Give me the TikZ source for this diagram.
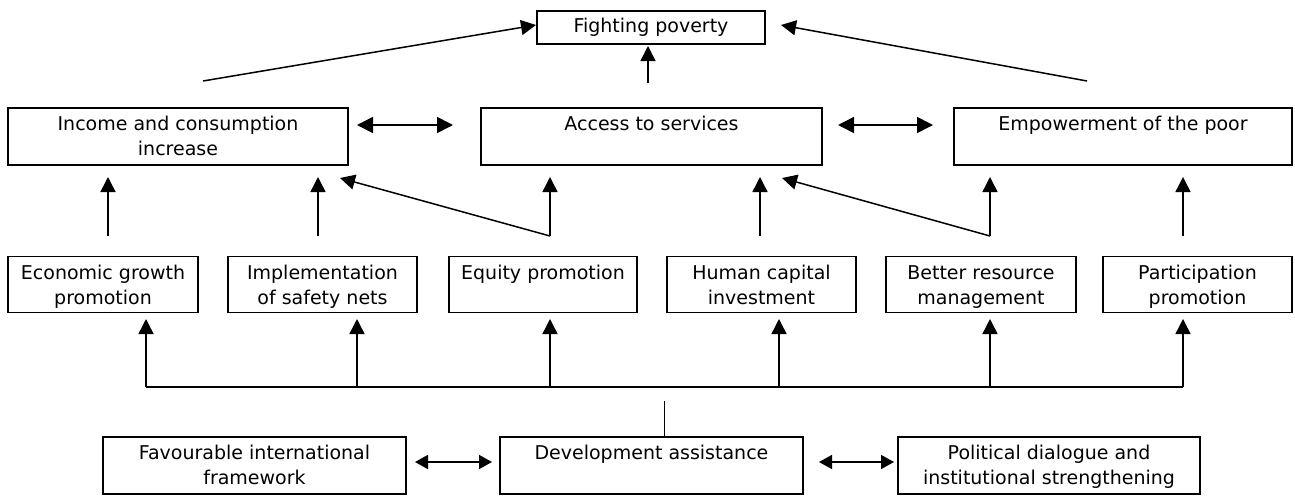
\documentclass[tikz,border=0pt]{standalone}
\usepackage{fontspec}
\setmainfont{DejaVu Sans}
\usetikzlibrary{arrows.meta}
% box text: first baseline a fixed distance below the top edge
\newcommand\boxlines[3]{\parbox[c][#2][t]{#1}{\centering\rule{0pt}{22.5pt}#3\par}}
\tikzset{
  frame/.style={draw, line width=1.6pt, inner sep=0pt, outer sep=0pt},
  link/.style={line width=1.5pt, -{Triangle[length=15pt,width=15pt]}},
  both/.style={line width=1.6pt, {Triangle[length=16pt,width=16pt]}-{Triangle[length=16pt,width=16pt]}},
  bothsmall/.style={line width=1.6pt, {Triangle[length=13pt,width=14pt]}-{Triangle[length=13pt,width=14pt]}},
  bus/.style={line width=2pt},
  stub/.style={line width=1pt},
}
\begin{document}
\begin{tikzpicture}[x=1pt,y=-1pt,font=\fontsize{19pt}{25pt}\selectfont]
\useasboundingbox (0,0) rectangle (1295,498);

% goal
\node[frame, minimum width=228pt, minimum height=33pt] (fight) at (651,27.5) {Fighting poverty};

% outcomes
\node[frame] (inc) at (178,136.5) {\boxlines{340pt}{57pt}{Income and consumption\\increase}};
\node[frame] (acc) at (651.5,136.5) {\boxlines{341pt}{57pt}{Access to services}};
\node[frame] (emp) at (1123,136.5) {\boxlines{338pt}{57pt}{Empowerment of the poor}};

% policy areas
\node[frame] (eco) at (103,284.5) {\boxlines{190pt}{56pt}{Economic growth\\promotion}};
\node[frame] (imp) at (322.5,284.5) {\boxlines{189pt}{56pt}{Implementation\\of safety nets}};
\node[frame] (equ) at (543,284.5) {\boxlines{188pt}{56pt}{Equity promotion}};
\node[frame] (hum) at (761.5,284.5) {\boxlines{189pt}{56pt}{Human capital\\investment}};
\node[frame] (bet) at (981,284.5) {\boxlines{190pt}{56pt}{Better resource\\management}};
\node[frame] (par) at (1197.5,284.5) {\boxlines{189pt}{56pt}{Participation\\promotion}};

% instruments
\node[frame] (fav) at (254.5,465.5) {\boxlines{303pt}{57pt}{Favourable international\\framework}};
\node[frame] (dev) at (651.5,465.5) {\boxlines{303pt}{57pt}{Development assistance}};
\node[frame] (pol) at (1049,465.5) {\boxlines{302pt}{57pt}{Political dialogue and\\institutional strengthening}};

% free ends of the connectors
\coordinate (incTop) at (203,81);
\coordinate (empTop) at (1087,81);
\coordinate (accTop) at (648,83);
\coordinate (fightL) at (536,25);
\coordinate (fightR) at (781,25);
\coordinate (fightB) at (648,46);

\foreach \n/\x in {1/108,2/318,3/550,4/760,5/990,6/1183}{
  \coordinate (lo\n) at (\x,236);
  \coordinate (hi\n) at (\x,177);
}
\coordinate (hiIncR) at (340,178);
\coordinate (hiAccR) at (782,178);

\foreach \n/\x in {1/146,2/357,3/550,4/779,5/990,6/1183}{
  \coordinate (bus\n) at (\x,387);
  \coordinate (tip\n) at (\x,319);
}
\coordinate (devStub) at (664,401);
\coordinate (devTop) at (664,438);

% links into the goal
\draw[link] (incTop) -- (fightL);
\draw[link] (empTop) -- (fightR);
\draw[link] (accTop) -- (fightB);

% links among outcomes
\draw[both] (357,125) coordinate (ia1) -- (453,125) coordinate (ia2);
\draw[both] (838,125) coordinate (ae1) -- (933,125) coordinate (ae2);

% links from policy areas to outcomes
\foreach \n in {1,...,6}{ \draw[link] (lo\n) -- (hi\n); }
\draw[link] (lo3) -- (hiIncR);
\draw[link] (lo5) -- (hiAccR);

% distribution bus from development assistance
\draw[bus] (bus1) -- (bus6);
\foreach \n in {1,...,6}{ \draw[link] (bus\n) -- (tip\n); }
\draw[stub] (devStub) -- (devTop);

% links among instruments
\draw[bothsmall] (415,462) coordinate (fd1) -- (492,462) coordinate (fd2);
\draw[bothsmall] (819,462) coordinate (dp1) -- (894,462) coordinate (dp2);
\end{tikzpicture}
\end{document}
